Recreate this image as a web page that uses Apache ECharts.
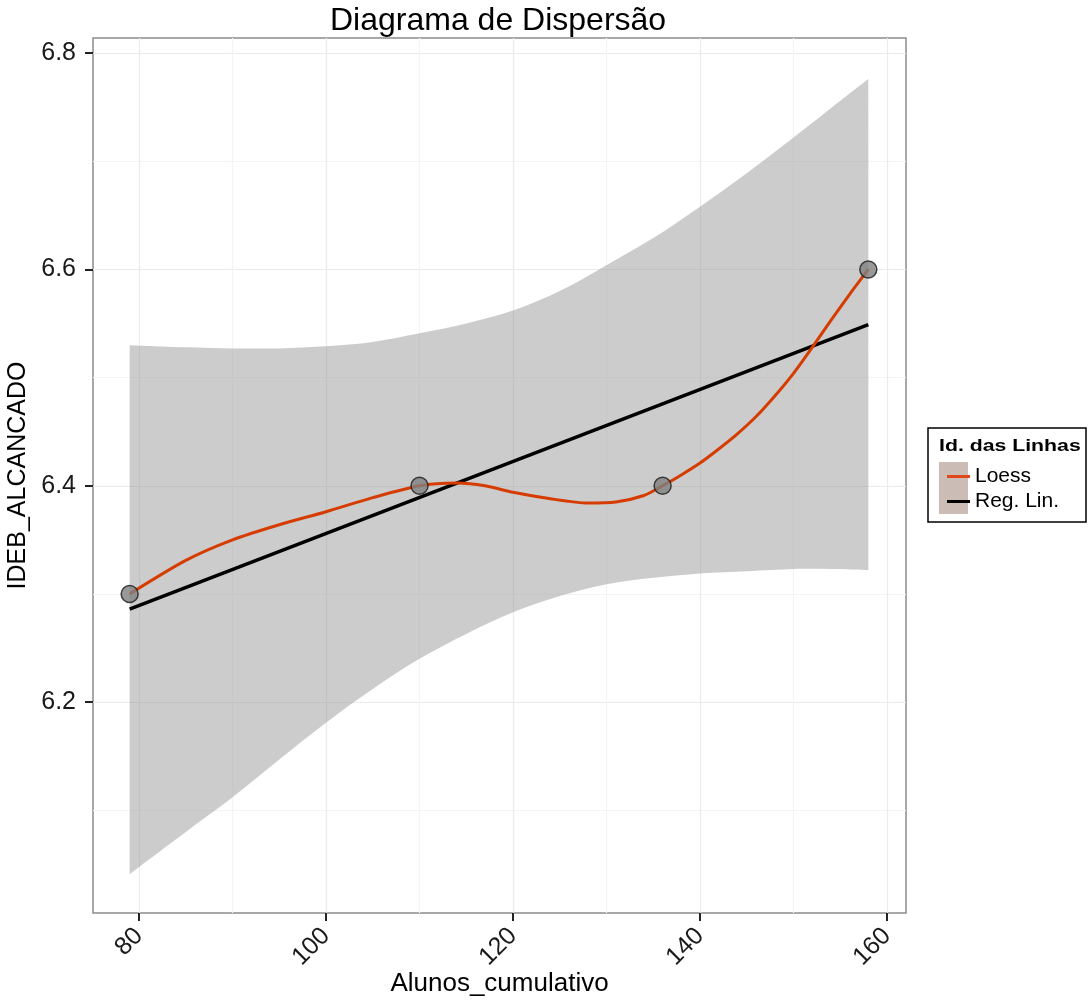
<!DOCTYPE html>
<html>
<head>
<meta charset="utf-8">
<script src="https://cdn.jsdelivr.net/npm/echarts@6/dist/echarts.min.js"></script>
<style>
  html, body { margin: 0; padding: 0; background: #fff; }
  #chart { width: 1091px; height: 1001px; }
</style>
</head>
<body>
<div id="chart"></div>
<script>
  'use strict';

  // observed points
  var pointsX = [79, 110, 136, 158];
  var pointsY = [6.3, 6.4, 6.4, 6.6];

  // confidence band of the linear fit
  var bandX = [79, 85, 90, 95, 100, 105, 110, 115, 120, 125, 130, 135, 140, 145, 150, 154, 158];
  var bandUpper = [6.530, 6.528, 6.527, 6.527, 6.529, 6.533, 6.541, 6.550, 6.562, 6.580, 6.604, 6.629, 6.658, 6.689, 6.722, 6.749, 6.776];
  var bandLower = [6.041, 6.080, 6.112, 6.147, 6.181, 6.212, 6.240, 6.263, 6.283, 6.298, 6.309, 6.315, 6.319, 6.321, 6.323, 6.323, 6.322];

  // regression line ends
  var regX = [79, 158];
  var regY = [6.286, 6.549];

  // loess curve
  var loessX = [79, 85, 90, 95, 100, 105, 110, 114, 117, 120, 124, 128, 131, 134, 136, 138, 140, 142, 144, 146, 148, 150, 152, 154, 156, 158];
  var loessY = [6.300, 6.331, 6.350, 6.364, 6.376, 6.389, 6.400, 6.4025, 6.400, 6.394, 6.388, 6.384, 6.385, 6.391, 6.400, 6.410, 6.421, 6.434, 6.448, 6.464, 6.483, 6.504, 6.528, 6.553, 6.577, 6.600];

  // axis ticks
  var xTicks = [80, 100, 120, 140, 160];
  var xMinor = [90, 110, 130, 150];
  var yTicks = [6.2, 6.4, 6.6, 6.8];
  var yMinor = [6.1, 6.3, 6.5, 6.7];

  var legendNames = ['Loess', 'Reg. Lin.'];

  var xMin = 75.08, xMax = 162.03;
  var yMin = 6.005, yMax = 6.814;

  function zip(xs, ys) {
    return xs.map(function (x, i) { return [x, ys[i]]; });
  }

  // smooth curve through pixel points (catmull-rom as cubic bezier)
  function curvePath(pts, start) {
    var d = start ? 'M' + pts[0][0] + ' ' + pts[0][1] : 'L' + pts[0][0] + ' ' + pts[0][1];
    for (var i = 0; i < pts.length - 1; i++) {
      var p0 = pts[Math.max(i - 1, 0)], p1 = pts[i], p2 = pts[i + 1], p3 = pts[Math.min(i + 2, pts.length - 1)];
      var c1x = p1[0] + (p2[0] - p0[0]) / 6, c1y = p1[1] + (p2[1] - p0[1]) / 6;
      var c2x = p2[0] - (p3[0] - p1[0]) / 6, c2y = p2[1] - (p3[1] - p1[1]) / 6;
      d += ' C' + c1x + ' ' + c1y + ' ' + c2x + ' ' + c2y + ' ' + p2[0] + ' ' + p2[1];
    }
    return d;
  }

  var font = '"Liberation Sans", Arial, sans-serif';
  var myChart = echarts.init(document.getElementById('chart'), null, { renderer: 'canvas' });

  var option = {
    animation: false,
    backgroundColor: '#ffffff',
    title: {
      text: 'Diagrama de Dispersão',
      left: 325,
      top: 0,
      textStyle: { fontFamily: font, fontSize: 32, fontWeight: 'normal', color: '#000' }
    },
    grid: {
      left: 93,
      right: 185,
      top: 38,
      bottom: 88,
      outerBoundsMode: 'none',
      containLabel: false,
      show: true,
      borderColor: '#8c8c8c',
      borderWidth: 1.5,
      backgroundColor: 'transparent'
    },
    legend: {
      data: legendNames,
      orient: 'vertical',
      left: 942,
      top: 461,
      itemWidth: 23,
      itemHeight: 3,
      itemGap: 4,
      icon: 'rect',
      z: 10,
      textStyle: { fontFamily: font, fontSize: 21, color: '#000', lineHeight: 21 }
    },
    graphic: [
      {
        type: 'rect', z: 1,
        shape: { x: 928, y: 428, width: 158, height: 94 },
        style: { fill: '#fff', stroke: '#000', lineWidth: 1.5 }
      },
      {
        type: 'rect', z: 2,
        shape: { x: 939, y: 462, width: 29, height: 52 },
        style: { fill: '#cbbcb6' }
      },
      {
        type: 'text', z: 2, x: 939, y: 438, scaleX: 1.25,
        style: { text: 'Id. das Linhas', font: 'bold 17px ' + font, fill: '#000' }
      }
    ],
    xAxis: [
      {
        type: 'value',
        min: xMin,
        max: xMax,
        name: 'Alunos_cumulativo',
        nameLocation: 'middle',
        nameGap: 57,
        nameMoveOverlap: false,
        nameTextStyle: { fontFamily: font, fontSize: 26, color: '#000', lineHeight: 28 },
        axisLine: { show: false },
        axisTick: { show: true, customValues: xTicks, length: 8, lineStyle: { color: '#222', width: 2 } },
        axisLabel: {
          customValues: xTicks, rotate: 45, margin: 19,
          fontFamily: font, fontSize: 25, color: '#1a1a1a'
        },
        splitLine: { show: true, lineStyle: { color: '#ebebeb', width: 1.2 } }
      },
      {
        type: 'value',
        min: xMin,
        max: xMax,
        position: 'top',
        axisLine: { show: false },
        axisTick: { show: false, customValues: xMinor },
        axisLabel: { show: false, customValues: xMinor },
        splitLine: { show: true, lineStyle: { color: '#f4f4f4', width: 1.2 } }
      }
    ],
    yAxis: [
      {
        type: 'value',
        min: yMin,
        max: yMax,
        name: 'IDEB_ALCANCADO',
        nameLocation: 'middle',
        nameGap: 56,
        nameRotate: 90,
        nameTextStyle: { fontFamily: font, fontSize: 25, color: '#000' },
        axisLine: { show: false },
        axisTick: { show: true, customValues: yTicks, length: 8, lineStyle: { color: '#222', width: 2 } },
        axisLabel: {
          customValues: yTicks, margin: 17,
          fontFamily: font, fontSize: 25, color: '#1a1a1a',
          formatter: function (v) { return v.toFixed(1); }
        },
        splitLine: { show: true, lineStyle: { color: '#ebebeb', width: 1.2 } }
      },
      {
        type: 'value',
        min: yMin,
        max: yMax,
        position: 'right',
        axisLine: { show: false },
        axisTick: { show: false, customValues: yMinor },
        axisLabel: { show: false, customValues: yMinor },
        splitLine: { show: true, lineStyle: { color: '#f4f4f4', width: 1.2 } }
      }
    ],
    series: [
      {
        name: 'banda',
        type: 'custom',
        data: [[bandX[0], bandLower[0]]],
        silent: true,
        z: 1,
        renderItem: function (params, api) {
          var up = bandX.map(function (x, i) { return api.coord([x, bandUpper[i]]); });
          var low = bandX.map(function (x, i) { return api.coord([x, bandLower[i]]); }).reverse();
          var d = curvePath(up, true) + ' ' + curvePath(low, false) + ' Z';
          return {
            type: 'path',
            shape: { pathData: d, layout: 'center' },
            style: { fill: 'rgba(153,153,153,0.5)' }
          };
        }
      },
      {
        name: 'Reg. Lin.',
        type: 'line',
        data: zip(regX, regY),
        symbol: 'none',
        color: '#000',
        lineStyle: { color: '#000', width: 3.5 },
        z: 3
      },
      {
        name: 'Loess',
        type: 'line',
        data: zip(loessX, loessY),
        smooth: 0.25,
        symbol: 'none',
        color: '#e0481a',
        lineStyle: { color: '#d63c00', width: 3 },
        z: 4
      },
      {
        name: 'pontos',
        type: 'scatter',
        data: zip(pointsX, pointsY),
        symbolSize: 17,
        itemStyle: { color: '#7f7f7f', borderColor: '#1a1a1a', borderWidth: 1.5 },
        z: 5
      }
    ]
  };

  myChart.setOption(option);
</script>
</body>
</html>
